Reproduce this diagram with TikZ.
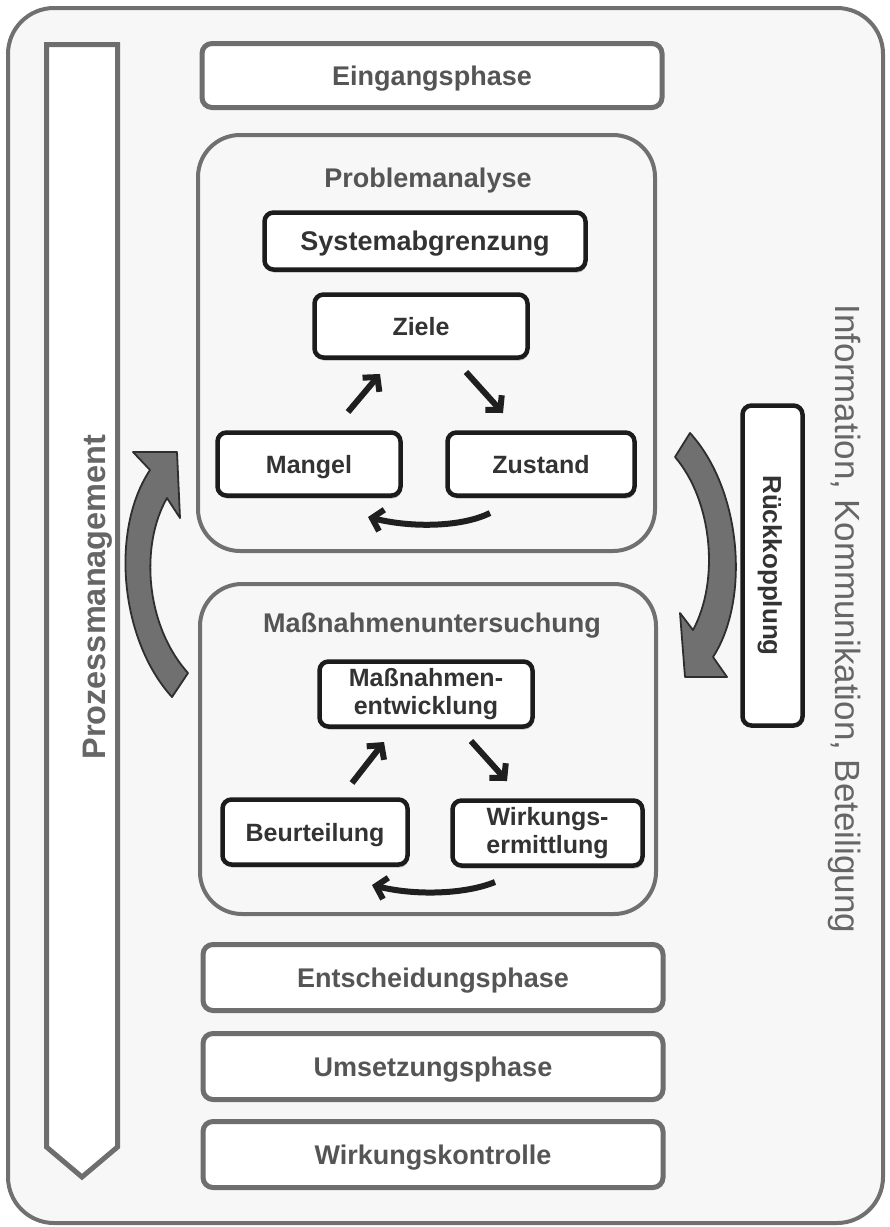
\documentclass[tikz,border=0pt]{standalone}
\usepackage{fontspec}
\setmainfont{Liberation Sans}
\usetikzlibrary{arrows.meta,shadows}
\definecolor{bgcol}{HTML}{F7F7F7}
\definecolor{framecol}{HTML}{707070}
\definecolor{phline}{HTML}{6E6E6E}
\definecolor{titlec}{HTML}{555555}
\definecolor{boxline}{HTML}{1C1C1C}
\definecolor{boxtext}{HTML}{333333}
\definecolor{arrowfill}{HTML}{707070}
\definecolor{arrowline}{HTML}{2E2E2E}
\definecolor{sidetext}{HTML}{666666}
\begin{document}
\begin{tikzpicture}[x=1pt,y=-1pt,
  phasebox/.style={draw=phline, line width=5pt, rounded corners=10pt, fill=white,
    minimum width=460pt, minimum height=64pt, inner sep=0pt, text=titlec,
    font=\fontsize{27}{30}\selectfont\bfseries, text height=19.4pt, text depth=0pt},
  container/.style={draw=framecol, line width=4pt, rounded corners=42pt, fill=bgcol, inner sep=0pt},
  ctitle/.style={text=titlec, font=\fontsize{27}{30}\selectfont\bfseries, inner sep=0pt, text height=19.4pt, text depth=0pt},
  innerbox/.style={draw=boxline, line width=4.5pt, rounded corners=9pt, fill=white, inner sep=0pt,
    text=boxtext, font=\fontsize{25}{27}\selectfont\bfseries,
    drop shadow={shadow xshift=1pt, shadow yshift=-3pt, opacity=0.25, fill=black}},
  onel/.style={text height=18pt, text depth=0pt},
  smallarrow/.style={draw=black!88, line width=6pt, -{Straight Barb[length=10pt,width=22pt]}},
  bigarrow/.style={fill=arrowfill, draw=arrowline, line width=1.8pt, line join=round},
  sidelabel/.style={text=sidetext, inner sep=0pt, text height=25pt, text depth=0pt}
]
\useasboundingbox (0,0) rectangle (890,1227);
% outer frame
\node[draw=framecol, line width=4pt, rounded corners=46pt, fill=bgcol,
  minimum width=875pt, minimum height=1215pt, inner sep=0pt] (frame) at (445.5,615.5) {};
% Prozessmanagement arrow
\draw[draw=phline, line width=5pt, fill=white, line join=miter]
  (46.5,44.5) -- (117.5,44.5) -- (117.5,1147) -- (82,1177) -- (46.5,1147) -- cycle;
\node[sidelabel, rotate=90, font=\fontsize{32.5}{34}\selectfont\bfseries, text height=23.5pt] (pm) at (94,597) {Prozessmanagement};
% side text
\node[sidelabel, rotate=-90, font=\fontsize{35}{37}\selectfont] (ikb) at (848,619) {Information, Kommunikation, Beteiligung};
% phases
\node[phasebox] (ein) at (432,75.5) {Eingangsphase};
\node[phasebox, minimum height=66pt] (ent) at (433,977.5) {Entscheidungsphase};
\node[phasebox, minimum height=66pt] (ums) at (433,1066.5) {Umsetzungsphase};
\node[phasebox, minimum height=66pt] (wik) at (433,1154.5) {Wirkungskontrolle};
% containers
\node[container, minimum width=457pt, minimum height=416pt] (pa) at (426.5,343) {};
\node[ctitle] (patitle) at (428,178) {Problemanalyse};
\node[container, minimum width=456pt, minimum height=330pt] (mu) at (428,749) {};
\node[ctitle] (mutitle) at (432,623) {Maßnahmenuntersuchung};
% inner boxes Problemanalyse
\node[innerbox, onel, minimum width=321pt, minimum height=57pt, font=\fontsize{27}{29}\selectfont\bfseries, text height=19.4pt] (sys) at (425,241) {Systemabgrenzung};
\node[innerbox, onel, minimum width=213pt, minimum height=63pt] (ziele) at (421,326) {Ziele};
\node[innerbox, onel, minimum width=183pt, minimum height=63pt] (mangel) at (309,464) {Mangel};
\node[innerbox, onel, minimum width=187pt, minimum height=63pt] (zustand) at (541,464) {Zustand};
% inner boxes Massnahmen
\node[innerbox, minimum width=213pt, minimum height=65pt, align=center, font=\fontsize{25}{28}\selectfont\bfseries] (mentw) at (426,694) {Maßnahmen-\\entwicklung};
\node[innerbox, onel, minimum width=185pt, minimum height=65pt] (beurt) at (315,832) {Beurteilung};
\node[innerbox, minimum width=190pt, minimum height=65pt, align=center, font=\fontsize{25}{28}\selectfont\bfseries] (wirk) at (547.5,833) {Wirkungs-\\ermittlung};
% small arrows
\coordinate (a1s) at (348,412); \coordinate (a1e) at (380,374);
\coordinate (a2s) at (466,372); \coordinate (a2e) at (503,413);
\coordinate (a3s) at (490,513); \coordinate (a3e) at (368,517);
\draw[smallarrow] (a1s) -- (a1e);
\draw[smallarrow] (a2s) -- (a2e);
\draw[smallarrow] (a3s) .. controls (462,527) and (412,528) .. (a3e);
\coordinate (b1s) at (352,783); \coordinate (b1e) at (384,742);
\coordinate (b2s) at (471,741); \coordinate (b2e) at (507,781);
\coordinate (b3s) at (495,882); \coordinate (b3e) at (372,885);
\draw[smallarrow] (b1s) -- (b1e);
\draw[smallarrow] (b2s) -- (b2e);
\draw[smallarrow] (b3s) .. controls (466,894) and (416,896) .. (b3e);
% Rueckkopplung
\node[draw=boxline, line width=4.5pt, rounded corners=9pt, fill=white, rotate=-90,
  minimum width=320pt, minimum height=60pt, inner sep=0pt, text=boxtext,
  font=\fontsize{26}{28}\selectfont\bfseries, text height=18.7pt, text depth=0pt] (rk) at (772.5,565.5) {Rückkopplung};
% big curved arrows
\draw[bigarrow] (172,697) .. controls (120,640) and (110,530) .. (150,470)
  -- (133,452) -- (177,452) -- (180,518) -- (167,498)
  .. controls (140,545) and (145,625) .. (188,673) -- cycle;
\draw[bigarrow] (690,433) .. controls (742,490) and (750,600) .. (713,657)
  -- (727,677) -- (685,677) -- (680,613) -- (693,630)
  .. controls (720,580) and (712,500) .. (675,457) -- cycle;
\end{tikzpicture}
\end{document}
